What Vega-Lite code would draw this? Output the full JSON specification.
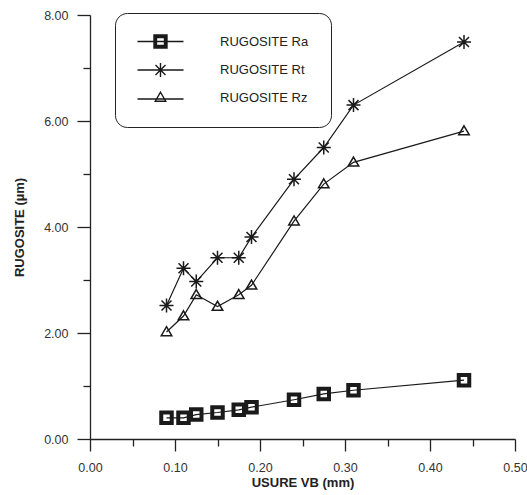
{
  "$schema": "https://vega.github.io/schema/vega-lite/v6.json",
  "width": 425,
  "height": 424,
  "autosize": "none",
  "padding": {"left": 90, "top": 15, "right": 12, "bottom": 56},
  "background": "white",
  "config": {
    "view": {"stroke": null},
    "font": "Liberation Sans",
    "axis": {
      "domainColor": "#222",
      "domainWidth": 1.3,
      "tickColor": "#222",
      "tickWidth": 1.3,
      "labelFont": "Liberation Sans",
      "labelFontSize": 12.5,
      "labelColor": "#333",
      "titleFont": "Liberation Sans",
      "titleFontSize": 13,
      "titleFontWeight": "bold",
      "titleColor": "#222",
      "grid": false
    }
  },
  "data": {
    "values": [
      {"serie": "RUGOSITE Ra", "usure": 0.09, "rug": 0.4},
      {"serie": "RUGOSITE Ra", "usure": 0.11, "rug": 0.4},
      {"serie": "RUGOSITE Ra", "usure": 0.125, "rug": 0.46},
      {"serie": "RUGOSITE Ra", "usure": 0.15, "rug": 0.5},
      {"serie": "RUGOSITE Ra", "usure": 0.175, "rug": 0.55},
      {"serie": "RUGOSITE Ra", "usure": 0.19, "rug": 0.6},
      {"serie": "RUGOSITE Ra", "usure": 0.24, "rug": 0.74},
      {"serie": "RUGOSITE Ra", "usure": 0.275, "rug": 0.85},
      {"serie": "RUGOSITE Ra", "usure": 0.31, "rug": 0.92},
      {"serie": "RUGOSITE Ra", "usure": 0.44, "rug": 1.11},
      {"serie": "RUGOSITE Rt", "usure": 0.09, "rug": 2.52},
      {"serie": "RUGOSITE Rt", "usure": 0.11, "rug": 3.22},
      {"serie": "RUGOSITE Rt", "usure": 0.125, "rug": 2.97},
      {"serie": "RUGOSITE Rt", "usure": 0.15, "rug": 3.42},
      {"serie": "RUGOSITE Rt", "usure": 0.175, "rug": 3.42},
      {"serie": "RUGOSITE Rt", "usure": 0.19, "rug": 3.81},
      {"serie": "RUGOSITE Rt", "usure": 0.24, "rug": 4.9},
      {"serie": "RUGOSITE Rt", "usure": 0.275, "rug": 5.5},
      {"serie": "RUGOSITE Rt", "usure": 0.31, "rug": 6.3},
      {"serie": "RUGOSITE Rt", "usure": 0.44, "rug": 7.49},
      {"serie": "RUGOSITE Rz", "usure": 0.09, "rug": 2.02},
      {"serie": "RUGOSITE Rz", "usure": 0.11, "rug": 2.32},
      {"serie": "RUGOSITE Rz", "usure": 0.125, "rug": 2.72},
      {"serie": "RUGOSITE Rz", "usure": 0.15, "rug": 2.5},
      {"serie": "RUGOSITE Rz", "usure": 0.175, "rug": 2.72},
      {"serie": "RUGOSITE Rz", "usure": 0.19, "rug": 2.9},
      {"serie": "RUGOSITE Rz", "usure": 0.24, "rug": 4.11},
      {"serie": "RUGOSITE Rz", "usure": 0.275, "rug": 4.81},
      {"serie": "RUGOSITE Rz", "usure": 0.31, "rug": 5.22},
      {"serie": "RUGOSITE Rz", "usure": 0.44, "rug": 5.81}
    ]
  },
  "encoding": {
    "x": {
      "field": "usure",
      "type": "quantitative",
      "title": "USURE VB (mm)",
      "scale": {"domain": [0, 0.5], "nice": false, "zero": false},
      "axis": {
        "values": [0, 0.05, 0.1, 0.15, 0.2, 0.25, 0.3, 0.35, 0.4, 0.45, 0.5],
        "labelExpr": "round(datum.value*100) % 10 === 0 ? format(datum.value, '.2f') : ''",
        "tickSize": {"condition": {"test": "round(datum.value*100) % 10 !== 0", "value": 7}, "value": 12},
        "labelPadding": 10,
        "labelFlush": false,
        "titlePadding": 3
      }
    },
    "y": {
      "field": "rug",
      "type": "quantitative",
      "title": "RUGOSITE (µm)",
      "scale": {"domain": [0, 8], "nice": false, "zero": false},
      "axis": {
        "values": [0, 1, 2, 3, 4, 5, 6, 7, 8],
        "labelExpr": "datum.value % 2 === 0 ? format(datum.value, '.2f') : ''",
        "tickSize": {"condition": {"test": "datum.value % 2 !== 0", "value": 7}, "value": 13},
        "labelPadding": 9,
        "labelFlush": false,
        "titlePadding": 17
      }
    }
  },
  "layer": [
    {
      "mark": {"type": "line", "strokeWidth": 1.2},
      "encoding": {
        "color": {
          "field": "serie",
          "type": "nominal",
          "title": null,
          "scale": {
            "domain": ["RUGOSITE Ra", "RUGOSITE Rt", "RUGOSITE Rz"],
            "range": ["#1a1a1a", "#1a1a1a", "#1a1a1a"]
          },
          "legend": {
            "orient": "none",
            "legendX": 25,
            "legendY": -2,
            "padding": 22,
            "strokeColor": "#222",
            "cornerRadius": 12,
            "fillColor": "white",
            "symbolSize": 100,
            "symbolStrokeWidth": 1.4,
            "symbolFillColor": "transparent",
            "symbolOffset": 17,
            "labelFont": "Liberation Sans",
            "labelFontSize": 13,
            "labelColor": "#222",
            "labelOffset": 53,
            "rowPadding": 8.5,
            "encode": {
              "symbols": {
                "update": {
                  "shape": {
                    "signal": "datum.value === 'RUGOSITE Ra' ? 'M-4.6,0L4.6,0M-1.3,-1.3L1.3,-1.3L1.3,1.3L-1.3,1.3Z M-1.05,-1.05L1.05,-1.05L1.05,1.05L-1.05,1.05Z M-0.8,-0.8L0.8,-0.8L0.8,0.8L-0.8,0.8Z' : datum.value === 'RUGOSITE Rt' ? 'M-4.6,0L4.6,0M0,-1.4L0,1.4M-1,-1L1,1M-1,1L1,-1' : 'M-4.6,0.3L4.6,0.3M0,-1.05L1.05,0.75L-1.05,0.75Z'"
                  }
                }
              }
            }
          }
        }
      }
    },
    {
      "mark": {"type": "point", "filled": false, "size": 100, "strokeWidth": 1.5, "color": "#1a1a1a", "opacity": 1},
      "encoding": {
        "shape": {
          "field": "serie",
          "type": "nominal",
          "legend": null,
          "scale": {
            "range": [
              "M-1.3,-1.3L1.3,-1.3L1.3,1.3L-1.3,1.3Z M-1.05,-1.05L1.05,-1.05L1.05,1.05L-1.05,1.05Z M-0.8,-0.8L0.8,-0.8L0.8,0.8L-0.8,0.8Z",
              "M-1.4,0L1.4,0M0,-1.4L0,1.4M-1,-1L1,1M-1,1L1,-1",
              "M0,-1.05L1.05,0.75L-1.05,0.75Z"
            ]
          }
        }
      }
    }
  ]
}
